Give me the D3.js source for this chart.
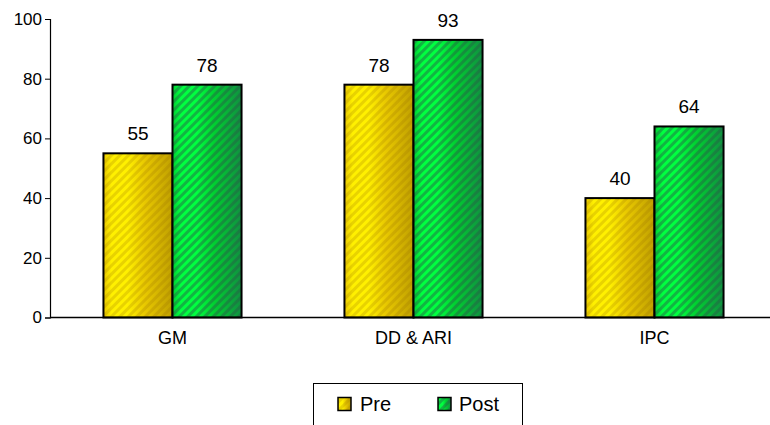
<!DOCTYPE html>
<html><head><meta charset="utf-8">
<script src="https://cdn.jsdelivr.net/npm/d3@7"></script>
<style>body{margin:0;background:#fff}svg{display:block;font-family:"Liberation Sans",Arial,sans-serif}</style>
</head><body>
<script>
const categories = ["GM", "DD & ARI", "IPC"];
const seriesNames = ["Pre", "Post"];
const preValues = [55, 78, 40];
const postValues = [78, 93, 64];
const yTicks = [0, 20, 40, 60, 80, 100];

const W = 770, H = 425;
const svg = d3.select("body").append("svg").attr("width", W).attr("height", H);
const defs = svg.append("defs");

function makeFill(id, light, mid, dark, stripe) {
  const g = defs.append("linearGradient").attr("id", id + "g").attr("x1", 0).attr("x2", 1).attr("y1", 0).attr("y2", 0);
  const stops = [[0, mid], [0.12, light], [0.35, light], [0.6, mid], [1, dark]];
  stops.forEach(s => g.append("stop").attr("offset", s[0]).attr("stop-color", s[1]));
  const p = defs.append("pattern").attr("id", id + "p").attr("patternUnits", "userSpaceOnUse")
    .attr("width", 6).attr("height", 6).attr("patternTransform", "rotate(45)");
  p.append("rect").attr("x", 0).attr("y", 0).attr("width", 3).attr("height", 6).attr("fill", stripe);
}
makeFill("pre", "#FFF000", "#E8C800", "#C0A000", "rgba(150,110,0,0.22)");
makeFill("post", "#00FF40", "#00D030", "#109040", "rgba(40,90,70,0.45)");

const m = {l: 50, t: 19, b: 107.5};
const x0 = d3.scaleBand().domain(categories).range([52, 775]).paddingInner(0.427).paddingOuter(0.2135);
const x1 = d3.scaleBand().domain(seriesNames).range([0, x0.bandwidth()]);
const y = d3.scaleLinear().domain([0, 100]).range([H - m.b, m.t]);

const data = categories.map((c, i) => ({cat: c, vals: [{s: "Pre", v: preValues[i]}, {s: "Post", v: postValues[i]}]}));

const groups = svg.selectAll("g.grp").data(data).join("g").attr("transform", d => `translate(${x0(d.cat)},0)`);
groups.each(function(d) {
  const g = d3.select(this);
  d.vals.forEach(b => {
    const id = b.s === "Pre" ? "pre" : "post";
    const bx = x1(b.s), by = y(b.v), bw = x1.bandwidth(), bh = y(0) - y(b.v);
    g.append("rect").attr("x", bx).attr("y", by).attr("width", bw).attr("height", bh).attr("fill", `url(#${id}g)`);
    g.append("rect").attr("x", bx).attr("y", by).attr("width", bw).attr("height", bh).attr("fill", `url(#${id}p)`)
      .attr("stroke", "#000").attr("stroke-width", 2);
    g.append("text").attr("x", bx + bw / 2).attr("y", by - 13).attr("text-anchor", "middle")
      .attr("font-size", 19).attr("fill", "#000").text(b.v);
  });
});

// Y axis
const yAxis = d3.axisLeft(y).tickValues(yTicks).tickSize(5).tickPadding(3);
const ya = svg.append("g").attr("transform", `translate(${m.l},0)`).call(yAxis);
ya.attr("font-size", 17).attr("font-family", "Liberation Sans, Arial, sans-serif");
ya.select(".domain").attr("stroke", "#000").attr("stroke-width", 1.2);
ya.selectAll(".tick line").attr("stroke", "#000");
ya.selectAll(".tick text").attr("fill", "#000");

// X axis
const xAxis = d3.axisBottom(x0).tickSize(0).tickPadding(14).tickSizeOuter(0);
const xa = svg.append("g").attr("transform", `translate(0,${y(0)})`).call(xAxis);
xa.attr("font-size", 18).attr("font-family", "Liberation Sans, Arial, sans-serif");
xa.select(".domain").attr("stroke", "#000").attr("stroke-width", 1.5).attr("d", `M${m.l},0H${W}`);
xa.selectAll(".tick text").attr("fill", "#000");

// Legend
const lg = svg.append("g");
lg.append("rect").attr("x", 313.5).attr("y", 383.5).attr("width", 209).attr("height", 50).attr("fill", "#fff").attr("stroke", "#000").attr("stroke-width", 1);
const legendItems = [{s: "Pre", id: "pre", x: 338, tx: 360}, {s: "Post", id: "post", x: 438, tx: 459}];
legendItems.forEach(it => {
  lg.append("rect").attr("x", it.x).attr("y", 397.5).attr("width", 13).attr("height", 13).attr("fill", `url(#${it.id}g)`);
  lg.append("rect").attr("x", it.x).attr("y", 397.5).attr("width", 13).attr("height", 13).attr("fill", `url(#${it.id}p)`).attr("stroke", "#000").attr("stroke-width", 1.5);
  lg.append("text").attr("x", it.tx).attr("y", 411).attr("font-size", 20).attr("fill", "#000").text(it.s);
});
</script>
</body></html>
